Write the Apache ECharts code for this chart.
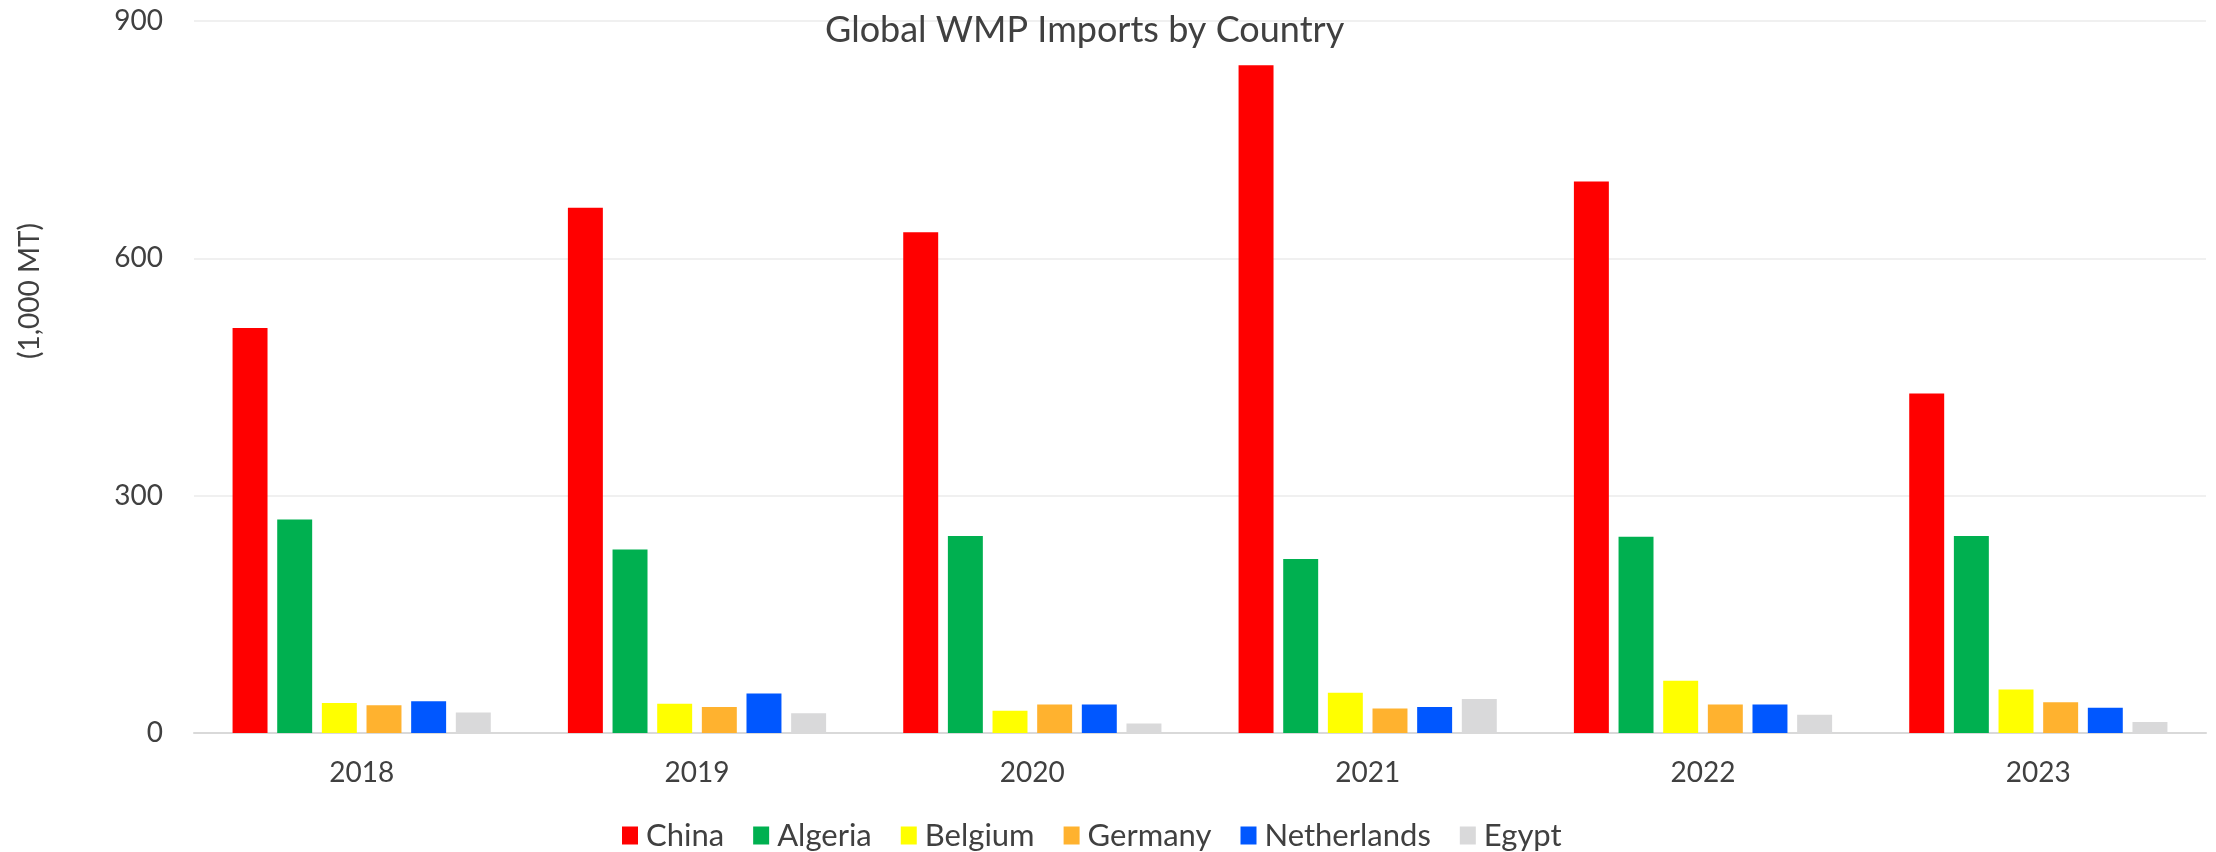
<!DOCTYPE html>
<html>
<head>
<meta charset="utf-8">
<script src="https://cdn.jsdelivr.net/npm/echarts@6/dist/echarts.min.js"></script>
<style>
  html, body { margin: 0; padding: 0; background: #ffffff; }
  #chart { width: 2216px; height: 852px; }
</style>
</head>
<body>
<div id="chart"></div>
<script>
// ---- Data ----
var years = ['2018', '2019', '2020', '2021', '2022', '2023'];
var china       = [512, 664, 633, 844, 697, 429];
var algeria     = [270, 232, 249, 220, 248, 249];
var belgium     = [38, 37, 28, 51, 66, 55];
var germany     = [35, 33, 36, 31, 36, 39];
var netherlands = [40, 50, 36, 33, 36, 32];
var egypt       = [26, 25, 12, 43, 23, 14];
var seriesNames = ['China', 'Algeria', 'Belgium', 'Germany', 'Netherlands', 'Egypt'];
var yTicks = [0, 300, 600, 900];

var titleText = 'Global WMP Imports by Country';
var yName = '(1,000 MT)';

// ---- Styles ----
var colors = ['#FF0000', '#00B050', '#FFFF00', '#FFB22F', '#0057FF', '#D9D9DA'];
var font = 'Lato';
var textColor = '#404040';

function measure(text, size, family) {
  var c = document.createElement('canvas').getContext('2d');
  c.font = size + 'px ' + family;
  return c.measureText(text).width;
}
var titleSize = 36;
var titleW = measure(titleText, titleSize, font);

var values = [china, algeria, belgium, germany, netherlands, egypt];
var series = seriesNames.map(function (name, i) {
  return {
    name: name,
    type: 'bar',
    data: values[i],
    barGap: '27.7%',
    barCategoryGap: '23%',
    itemStyle: { color: colors[i] }
  };
});

var chart = echarts.init(document.getElementById('chart'), null, { renderer: 'canvas' });
chart.setOption({
  animation: false,
  backgroundColor: '#ffffff',
  color: colors,
  title: {
    text: titleText,
    left: Math.round(1085 - titleW / 2),
    top: 12,
    padding: 0,
    textStyle: { fontFamily: font, fontSize: titleSize, fontWeight: 'normal', color: textColor }
  },
  legend: {
    data: seriesNames,
    left: 622,
    top: 820,
    padding: 0,
    itemWidth: 16,
    itemHeight: 18,
    itemGap: 29,
    icon: 'rect',
    textStyle: { fontFamily: font, fontSize: 31, color: textColor, padding: [0, 0, 0, 3] }
  },
  grid: { left: 194, right: 10, top: 21, bottom: 119, containLabel: false },
  xAxis: {
    type: 'category',
    data: years,
    axisLine: { show: true, lineStyle: { color: '#D9D9D9', width: 2 } },
    axisTick: { show: false },
    axisLabel: { fontFamily: font, fontSize: 28, color: textColor, margin: 26 }
  },
  yAxis: {
    type: 'value',
    min: yTicks[0],
    max: yTicks[yTicks.length - 1],
    interval: yTicks[1] - yTicks[0],
    axisLine: { show: false },
    axisTick: { show: false },
    splitLine: { show: true, lineStyle: { color: '#F0F0F0', width: 2 } },
    axisLabel: { fontFamily: font, fontSize: 28, color: textColor, margin: 31 }
  },
  graphic: [{
    type: 'text',
    x: 30,
    y: 291,
    rotation: Math.PI / 2,
    style: {
      text: yName,
      fontFamily: font,
      fontSize: 28,
      fill: textColor,
      align: 'center',
      verticalAlign: 'middle'
    }
  }],
  series: series
});
</script>
</body>
</html>
